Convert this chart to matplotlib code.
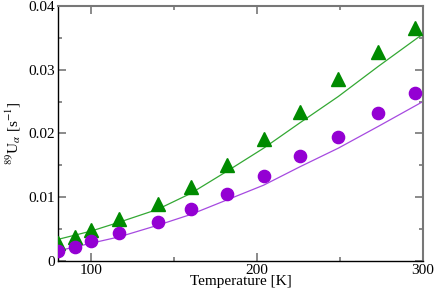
import numpy as np
import matplotlib
matplotlib.use("Agg")
import matplotlib.pyplot as plt
from matplotlib.ticker import MultipleLocator, FuncFormatter

# Datos
temp = [80, 90, 100, 117, 140, 160, 182, 204, 226, 249, 273, 295]
u_green = [0.0029, 0.0038, 0.0049, 0.0066, 0.0089, 0.0116, 0.0150, 0.0191,
           0.0234, 0.0285, 0.0328, 0.0366]
u_purple = [0.0016, 0.0022, 0.0031, 0.0044, 0.0061, 0.0081, 0.0105, 0.0134,
            0.0164, 0.0194, 0.0232, 0.0264]

# Curvas de ajuste (valores leídos sobre la línea)
temp_fit = [80, 100, 117, 140, 160, 182, 204, 226, 249, 273, 300]
fit_green = [0.0034, 0.0047, 0.0061, 0.0081, 0.0106, 0.0141, 0.0177, 0.0217,
             0.0258, 0.0305, 0.0356]
fit_purple = [0.0016, 0.0028, 0.0038, 0.0056, 0.0073, 0.0096, 0.0119, 0.0148,
              0.0177, 0.0211, 0.0250]

plt.rcParams['font.family'] = ['Liberation Serif', 'DejaVu Serif']
plt.rcParams['mathtext.fontset'] = 'stix'

fig = plt.figure(figsize=(4.36, 2.94), dpi=100)
ax = fig.add_axes([0.133, 0.112, 0.837, 0.868])

ax.plot(temp_fit, fit_green, color="#33a833", lw=0.9, zorder=2)
ax.plot(temp_fit, fit_purple, color="#a64ae0", lw=0.9, zorder=2)
ax.plot(temp, u_green, ls="none", marker="^", ms=9.5, color="#008b00",
        mec="#008b00", zorder=3)
ax.plot(temp, u_purple, ls="none", marker="o", ms=8.8, color="#9400d3",
        mec="#9400d3", zorder=3)

ax.set_xlim(80, 300)
ax.set_ylim(0, 0.04)
ax.xaxis.set_major_locator(MultipleLocator(100))
ax.xaxis.set_minor_locator(MultipleLocator(50))
ax.yaxis.set_major_locator(MultipleLocator(0.01))
ax.yaxis.set_minor_locator(MultipleLocator(0.005))
ax.yaxis.set_major_formatter(FuncFormatter(lambda v, p: "0" if abs(v) < 1e-9 else f"{v:g}"))

ax.tick_params(which="both", direction="in", top=True, right=True,
               color="#777777", width=1.2, labelsize=11, pad=2)
ax.tick_params(which="major", length=6)
ax.tick_params(which="minor", length=3)

for s in ["left", "bottom"]:
    ax.spines[s].set_color("black")
    ax.spines[s].set_linewidth(1.0)
for s in ["top", "right"]:
    ax.spines[s].set_color("#777777")
    ax.spines[s].set_linewidth(1.5)

ax.set_xlabel("Temperature [K]", fontsize=11, labelpad=-1)
ax.set_ylabel(r"$^{89}\mathrm{U}_{\alpha}$ [s$^{-1}$]", fontsize=11, labelpad=4)

fig.savefig("out.png", dpi=100)
